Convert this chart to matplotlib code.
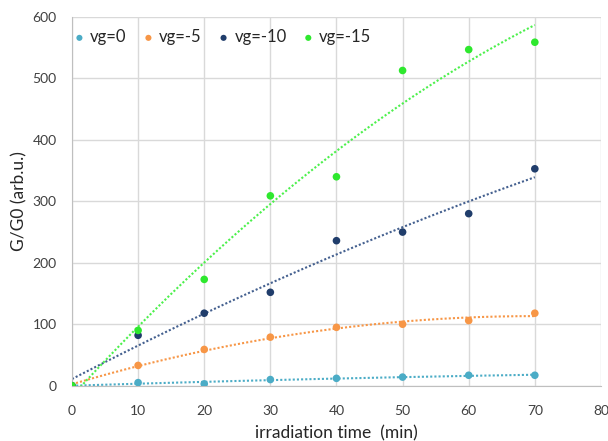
import numpy as np
import matplotlib
matplotlib.use("Agg")
import matplotlib.pyplot as plt

plt.rcParams['font.family'] = ['Lato', 'DejaVu Sans']

time_min = [0, 10, 20, 30, 40, 50, 60, 70]
vg0 = [0, 5, 3, 10, 12, 14, 17, 17]
vg_5 = [0, 33, 59, 79, 95, 100, 106, 118]
vg_10 = [0, 82, 118, 152, 236, 250, 280, 353]
vg_15 = [0, 90, 173, 309, 340, 513, 547, 559]
labels = ["vg=0", "vg=-5", "vg=-10", "vg=-15"]
colors = ["#4BACC6", "#F79646", "#203D6B", "#2EE82E"]
trend_colors = ["#4BACC6", "#F79646", "#44608F", "#4CF04C"]
xticks = [0, 10, 20, 30, 40, 50, 60, 70, 80]
yticks = [0, 100, 200, 300, 400, 500, 600]

fig = plt.figure(figsize=(6.08, 4.41), dpi=100)
ax = fig.add_axes([0.1184, 0.1254, 0.870, 0.836])

x = np.array(time_min, dtype=float)
xs = np.linspace(0, 70, 200)
for ys, lab, c, tc in zip([vg0, vg_5, vg_10, vg_15], labels, colors, trend_colors):
    y = np.array(ys, dtype=float)
    coef = np.polyfit(x, y, 2)
    yt = np.polyval(coef, xs)
    ax.plot(xs, yt, linestyle=(0, (1, 1)), color=tc, lw=1.5, zorder=2)
    ax.scatter(x, y, s=30, color=c, label=lab, zorder=3, edgecolors='none')

ax.set_xlim(0, 80)
ax.set_ylim(0, 600)
ax.set_xticks(xticks)
ax.set_yticks(yticks)
ax.grid(True, color="#D9D9D9", lw=1)
ax.set_axisbelow(True)
for s in ["top", "right"]:
    ax.spines[s].set_visible(False)
for s in ["left", "bottom"]:
    ax.spines[s].set_color("#BFBFBF")
ax.tick_params(length=0, labelsize=10, colors="#404040")
ax.tick_params(axis='x', pad=14)
ax.tick_params(axis='y', pad=11)
ax.set_xlabel("irradiation time  (min)", fontsize=12.5, color="#262626", labelpad=6)
ax.set_ylabel("G/G0 (arb.u.)", fontsize=12.5, color="#262626", labelpad=4)

leg = ax.legend(loc="upper left", ncol=4, frameon=False, fontsize=12,
                handlelength=0.6, handletextpad=0.35, columnspacing=1.0,
                markerscale=0.8, borderpad=0.2,
                bbox_to_anchor=(-0.008, 0.985), borderaxespad=0.2)
for t in leg.get_texts():
    t.set_color("#262626")

fig.savefig("out.png", dpi=100)
